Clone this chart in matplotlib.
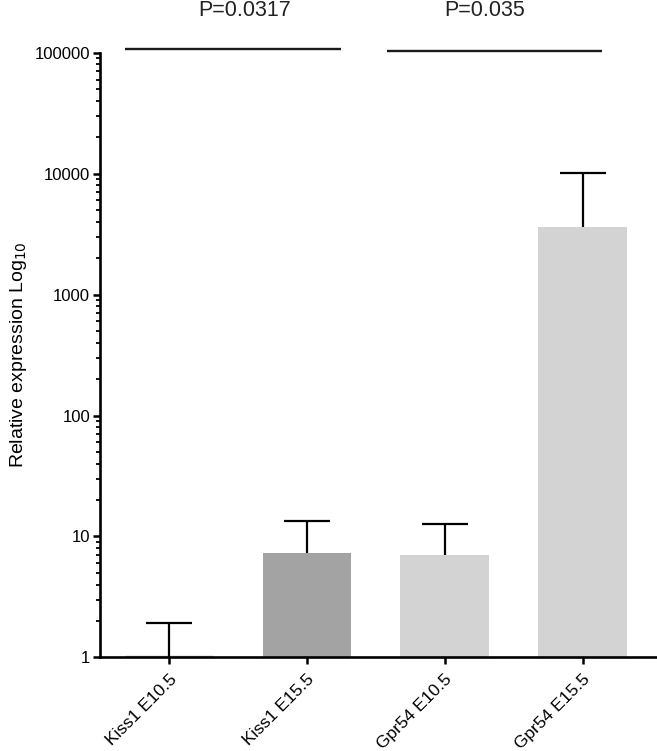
import numpy as np
import matplotlib
matplotlib.use('Agg')
import matplotlib.pyplot as plt
from matplotlib.ticker import LogLocator, FixedFormatter, FixedLocator, NullFormatter

plt.rcParams['font.family'] = ['Liberation Sans', 'DejaVu Sans']

# data
groups = ['Kiss1 E10.5', 'Kiss1 E15.5', 'Gpr54 E10.5', 'Gpr54 E15.5']
means = [1.0, 7.35, 7.05, 3600]
upper = [1.91, 13.5, 12.8, 10200]
colors = ['#a3a3a3', '#a3a3a3', '#d3d3d3', '#d3d3d3']

# significance brackets
sig_x0 = [-0.32, 1.58]
sig_x1 = [1.25, 3.14]
sig_y = [107000, 104000]
sig_text = ['P=0.0317', 'P=0.035']
sig_text_x = [0.55, 2.29]

fig = plt.figure(figsize=(6.57, 7.51), dpi=100)
ax = fig.add_axes([0.152, 0.1246, 0.848, 0.8052])

x = np.arange(len(groups))
heights = [m - 1 for m in means]
ax.bar(x, heights, bottom=1, width=0.64, color=colors, zorder=2)
# first bar sits at baseline: show as thin grey line
ax.hlines(means[0], x[0] - 0.32, x[0] + 0.32, color='#b0b0b0', lw=2.5, zorder=2)

# upper-only error bars (T shape)
cap = 0.167
ax.vlines(x, means, upper, color='black', lw=1.6, zorder=3)
ax.hlines(upper, x - cap, x + cap, color='black', lw=1.6, zorder=3)

ax.set_yscale('log')
ax.set_ylim(1, 100000)
ax.set_xlim(-0.5, 3.54)

ax.yaxis.set_major_locator(FixedLocator([1, 10, 100, 1000, 10000, 100000]))
ax.yaxis.set_major_formatter(FixedFormatter(['1', '10', '100', '1000', '10000', '100000']))
ax.yaxis.set_minor_locator(LogLocator(base=10, subs=np.arange(2, 10)))
ax.yaxis.set_minor_formatter(NullFormatter())

ax.set_xticks(x)
ax.set_xticklabels(groups, rotation=45, ha='right', rotation_mode='anchor', fontsize=12.5)
ax.tick_params(axis='y', which='major', length=5, width=1.8, labelsize=12, pad=2)
ax.tick_params(axis='y', which='minor', length=3, width=1.3)
ax.tick_params(axis='x', which='major', length=5, width=1.8, pad=5)

for s in ['top', 'right']:
    ax.spines[s].set_visible(False)
for s in ['left', 'bottom']:
    ax.spines[s].set_linewidth(1.9)

ax.set_ylabel('Relative expression Log$_{10}$', fontsize=14, labelpad=4)

for x0, x1, y, t, tx in zip(sig_x0, sig_x1, sig_y, sig_text, sig_text_x):
    ax.plot([x0, x1], [y, y], color='#1a1a1a', lw=1.7, clip_on=False, solid_capstyle='butt')
    ax.text(tx, 222000, t, ha='center', va='center', fontsize=15.5, color='#222222',
            clip_on=False)

fig.savefig('out.png', dpi=100)
